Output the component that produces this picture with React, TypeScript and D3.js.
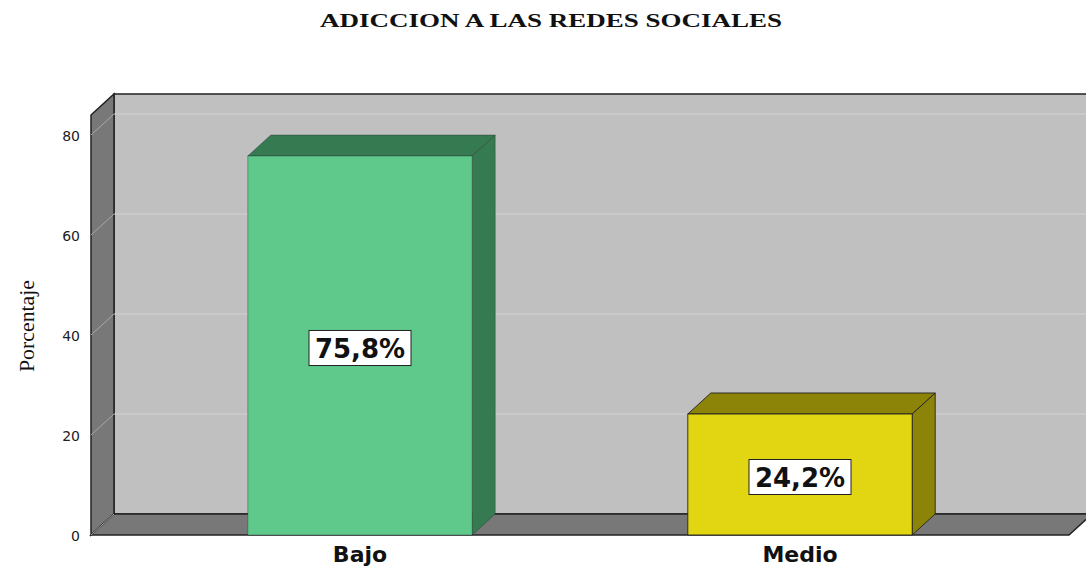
import * as d3 from 'd3';
import React from 'react';

const categories = ['Bajo', 'Medio'];
const percentages = [75.8, 24.2];
const valueLabels = ['75,8%', '24,2%'];
const yTicks = [0, 20, 40, 60, 80];

const frontColors = ['#5ec98a', '#e2d612'];
const sideColors = ['#367a52', '#8c8409'];

export default function App() {
    const width = 1086;
    const height = 568;
    const depthX = 23;
    const depthY = 21;
    const axisX = 91;
    const floorRight = 1069;

    // value scale on the front plane
    const y = d3.scaleLinear().domain([0, 84]).range([535, 115]);
    const x = d3.scaleBand<string>()
        .domain(categories)
        .range([140, 1020])
        .paddingInner(0.49)
        .paddingOuter(0.245);

    const y0 = y(0);
    const yTop = y(84);
    const bw = x.bandwidth();

    const pts = (arr: number[][]) => arr.map(p => p.join(',')).join(' ');

    return (
        <div style={{ position: 'fixed', left: 0, top: 0 }}>
            <svg width={width} height={height} style={{ display: 'block', background: '#fff' }}>
                <text x={320} y={27} fontFamily="'Liberation Serif', serif"
                      fontWeight="bold" fontSize={19} textLength={462} lengthAdjust="spacingAndGlyphs" fill="#111">
                    ADICCION A LAS REDES SOCIALES
                </text>

                {/* back wall */}
                <rect x={axisX + depthX} y={yTop - depthY} width={width - axisX - depthX + 5}
                      height={y0 - yTop} fill="#c0c0c0" stroke="#222" strokeWidth={1.5} />
                {/* left wall */}
                <polygon points={pts([[axisX, yTop], [axisX + depthX, yTop - depthY],
                    [axisX + depthX, y0 - depthY], [axisX, y0]])}
                         fill="#787878" stroke="#222" strokeWidth={1.5} />
                {/* floor */}
                <polygon points={pts([[axisX, y0], [axisX + depthX, y0 - depthY],
                    [width + 5, y0 - depthY], [floorRight + depthX, y0 - depthY], [floorRight, y0]])}
                         fill="#787878" stroke="#222" strokeWidth={1.5} />

                {/* grid */}
                {yTicks.filter(t => t > 0).map(t => (
                    <g key={t}>
                        <line x1={axisX + depthX} x2={width} y1={y(t) - depthY} y2={y(t) - depthY}
                              stroke="#d2d2d2" strokeWidth={1} />
                        <line x1={axisX} x2={axisX + depthX} y1={y(t)} y2={y(t) - depthY}
                              stroke="#a8a8a8" strokeWidth={1} />
                    </g>
                ))}
                <line x1={axisX} x2={axisX + depthX} y1={y0} y2={y0 - depthY}
                      stroke="#a8a8a8" strokeWidth={1} />

                {/* tick labels */}
                {yTicks.map(t => (
                    <text key={t} x={80} y={y(t) + 1} dy="0.35em" textAnchor="end"
                          fontFamily="'DejaVu Sans', sans-serif" fontSize={14} fill="#222">{t}</text>
                ))}

                <text transform={`translate(34,326) rotate(-90)`} textAnchor="middle"
                      fontFamily="'Liberation Serif', serif" fontSize={20} fill="#111"
                      textLength={92} lengthAdjust="spacingAndGlyphs">Porcentaje</text>

                {/* bars */}
                {categories.map((c, i) => {
                    const bx = x(c) as number;
                    const by = y(percentages[i]);
                    return (
                        <g key={c}>
                            <polygon points={pts([[bx, by], [bx + depthX, by - depthY],
                                [bx + bw + depthX, by - depthY], [bx + bw, by]])}
                                     fill={sideColors[i]} stroke="#222" strokeOpacity={i === 0 ? 0.35 : 0.9} strokeWidth={1} />
                            <polygon points={pts([[bx + bw, by], [bx + bw + depthX, by - depthY],
                                [bx + bw + depthX, y0 - depthY], [bx + bw, y0]])}
                                     fill={sideColors[i]} stroke="#222" strokeOpacity={i === 0 ? 0.35 : 0.9} strokeWidth={1} />
                            <rect x={bx} y={by} width={bw} height={y0 - by} fill={frontColors[i]}
                                  stroke="#222" strokeOpacity={i === 0 ? 0.35 : 0.9} strokeWidth={1} />
                        </g>
                    );
                })}

                {/* value labels */}
                {categories.map((c, i) => {
                    const cx = (x(c) as number) + bw / 2;
                    const cy = (y(percentages[i]) + y0) / 2 + 2;
                    return (
                        <g key={c + 'l'}>
                            <rect x={cx - 51} y={cy - 17} width={102} height={35} fill="#fff"
                                  stroke="#222" strokeWidth={1} />
                            <text x={cx} y={cy + 1} dy="0.36em" textAnchor="middle"
                                  fontFamily="'DejaVu Sans', sans-serif" fontWeight="bold"
                                  fontSize={26} fill="#111">{valueLabels[i]}</text>
                        </g>
                    );
                })}

                {/* category labels */}
                {categories.map(c => (
                    <text key={c + 'x'} x={(x(c) as number) + bw / 2} y={562} textAnchor="middle"
                          fontFamily="'DejaVu Sans', sans-serif" fontWeight="bold"
                          fontSize={22} fill="#111">{c}</text>
                ))}
            </svg>
        </div>
    );
}
